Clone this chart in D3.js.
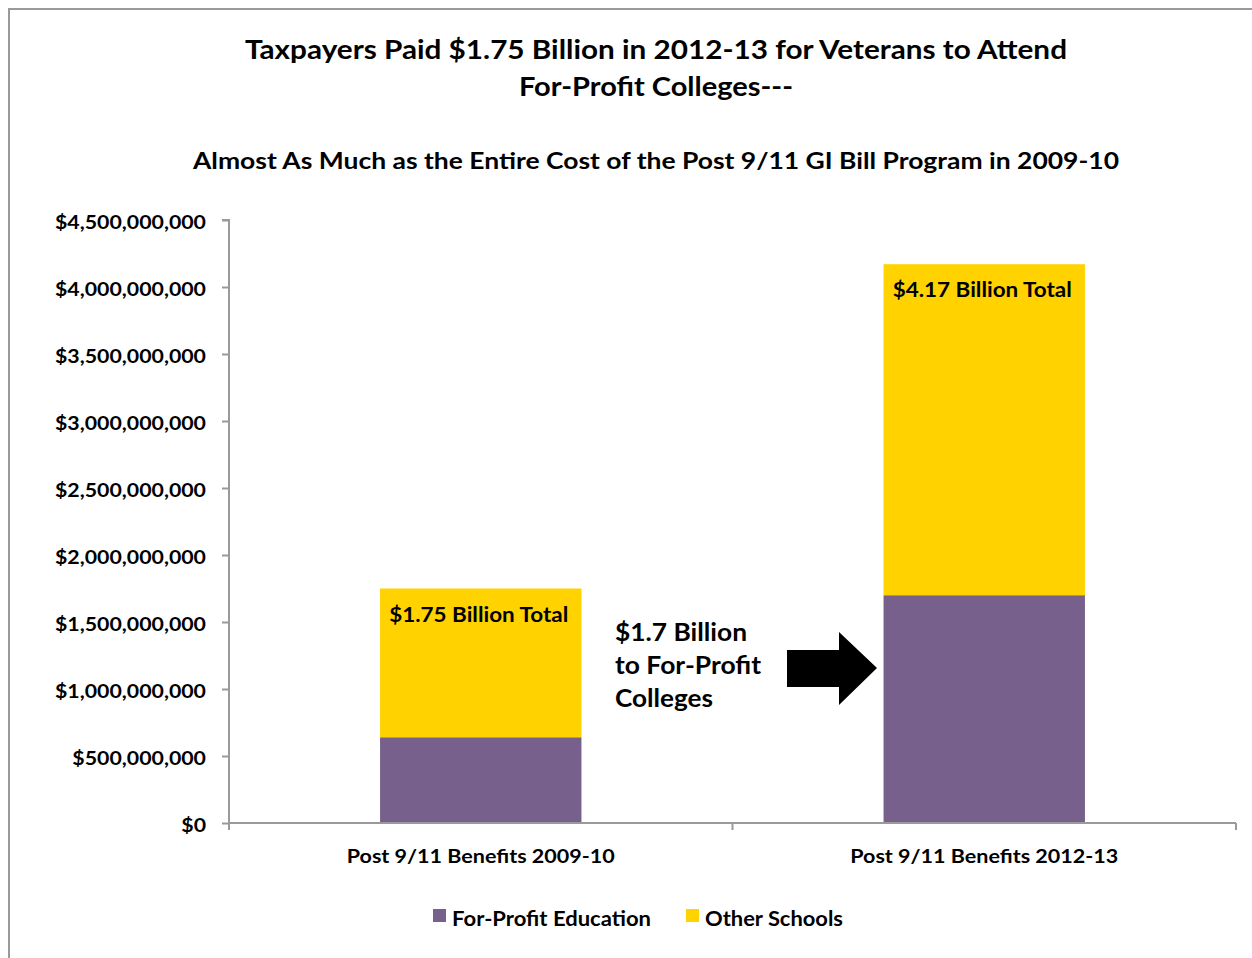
<!DOCTYPE html>
<html><head><meta charset="utf-8">
<script src="https://cdn.jsdelivr.net/npm/d3@7"></script>
<style>
html,body{margin:0;padding:0;background:#fff;}
svg{display:block;}
text{font-family:Lato,"Open Sans",sans-serif;font-weight:bold;fill:#000;}
</style></head>
<body>
<svg id="c" width="1252" height="958"></svg>
<script>
const categories = ["Post 9/11 Benefits 2009-10", "Post 9/11 Benefits 2012-13"];
const seriesNames = ["For-Profit Education", "Other Schools"];
const forProfit = [640000000, 1700000000];
const otherSchools = [1110000000, 2470000000];
const totalLabels = ["$1.75 Billion Total", "$4.17 Billion Total"];
const yTicks = [0, 500000000, 1000000000, 1500000000, 2000000000, 2500000000, 3000000000, 3500000000, 4000000000, 4500000000];
const colors = ["#77618C", "#FFD200"];
const annotationLines = ["$1.7 Billion", "to For-Profit", "Colleges"];

const svg = d3.select("#c");
// chart frame
svg.append("rect").attr("x", 9).attr("y", 9).attr("width", 1260).attr("height", 970)
  .attr("fill", "none").attr("stroke", "#9a9a9a").attr("stroke-width", 2);

function fit(sel, w) {
  const len = sel.node().getComputedTextLength();
  if (Math.abs(len - w) > 1) sel.attr("textLength", w).attr("lengthAdjust", "spacingAndGlyphs");
  return sel;
}
function scaleText(sel, k) {
  sel.each(function() {
    const len = this.getComputedTextLength();
    d3.select(this).attr("textLength", len * k).attr("lengthAdjust", "spacingAndGlyphs");
  });
}

// titles
fit(svg.append("text").attr("x", 656).attr("y", 59).attr("text-anchor", "middle").attr("font-size", 27.5)
  .text("Taxpayers Paid $1.75 Billion in 2012-13 for Veterans to Attend"), 822);
fit(svg.append("text").attr("x", 656).attr("y", 96).attr("text-anchor", "middle").attr("font-size", 27.5)
  .text("For-Profit Colleges---"), 274);
fit(svg.append("text").attr("x", 656).attr("y", 169).attr("text-anchor", "middle").attr("font-size", 23)
  .text("Almost As Much as the Entire Cost of the Post 9/11 GI Bill Program in 2009-10"), 926);

const x0 = 229, x1 = 1236, yTop = 220, yBot = 823;
const x = d3.scaleBand().domain(categories).range([x0, x1]).padding(0);
const y = d3.scaleLinear().domain([0, 4500000000]).range([yBot, yTop]);
const barW = x.bandwidth() * 0.4;

// bars
const stackData = categories.map((c, i) => ({cat: c, fp: forProfit[i], ot: otherSchools[i]}));
const stack = d3.stack().keys(["fp", "ot"])(stackData);
stack.forEach((layer, li) => {
  svg.append("g").selectAll("rect").data(layer).join("rect")
    .attr("x", d => x(d.data.cat) + (x.bandwidth() - barW) / 2)
    .attr("width", barW)
    .attr("y", d => y(d[1]))
    .attr("height", d => y(d[0]) - y(d[1]))
    .attr("fill", colors[li]);
});

// y axis
const yAxis = svg.append("g").attr("transform", `translate(${x0},0)`)
  .call(d3.axisLeft(y).tickValues(yTicks).tickSize(7).tickPadding(16)
    .tickFormat(d => "$" + d3.format(",")(d)));
yAxis.select(".domain").attr("stroke", "#9a9a9a").attr("stroke-width", 2).attr("d", `M-7,${yTop}H0V${yBot}`);
yAxis.selectAll(".tick line").attr("stroke", "#9a9a9a").attr("stroke-width", 2);
const yLabels = yAxis.selectAll(".tick text").attr("font-size", 18.5).attr("font-family", "Lato, sans-serif")
  .attr("font-weight", "bold").attr("fill", "#000").attr("dy", "0.48em");
let maxLen = 0;
yLabels.each(function() { maxLen = Math.max(maxLen, this.getComputedTextLength()); });
scaleText(yLabels, 151 / maxLen);

// x axis
const xAxis = svg.append("g").attr("transform", `translate(0,${yBot})`)
  .call(d3.axisBottom(x).tickSize(0).tickPadding(26));
xAxis.select(".domain").attr("stroke", "#9a9a9a").attr("stroke-width", 2).attr("d", `M${x0},0H${x1}`);
xAxis.selectAll(".tick text").attr("font-size", 19.5).attr("font-family", "Lato, sans-serif")
  .attr("font-weight", "bold").attr("fill", "#000")
  .each(function() { fit(d3.select(this), 268); });
// category boundary ticks
svg.append("g").selectAll("line").data([x0, x0 + x.step(), x1]).join("line")
  .attr("x1", d => d).attr("x2", d => d).attr("y1", yBot).attr("y2", yBot + 7)
  .attr("stroke", "#9a9a9a").attr("stroke-width", 2);

// total labels inside bars
categories.forEach((c, i) => {
  fit(svg.append("text").attr("x", x(c) + x.bandwidth() / 2 - 2).attr("y", y(forProfit[i] + otherSchools[i]) + 33)
    .attr("text-anchor", "middle").attr("font-size", 20.5).text(totalLabels[i]), 179);
});

// annotation
const annW = [132, 146, 98];
annotationLines.forEach((t, i) => {
  fit(svg.append("text").attr("x", 615).attr("y", 641 + i * 33).attr("font-size", 25).text(t), annW[i]);
});
// block arrow
const ax = 787, ay = 668;
svg.append("path").attr("fill", "#000")
  .attr("d", `M${ax},${ay - 18}H${ax + 52}V${ay - 36}L${ax + 90},${ay}L${ax + 52},${ay + 37}V${ay + 19}H${ax}Z`);

// legend
const lg = svg.append("g");
const legX = [433, 686];
const legW = [199, 138];
seriesNames.forEach((s, i) => {
  lg.append("rect").attr("x", legX[i]).attr("y", 909).attr("width", 13).attr("height", 13).attr("fill", colors[i]);
  fit(lg.append("text").attr("x", legX[i] + 19).attr("y", 926).attr("font-size", 21).text(s), legW[i]);
});
</script>
</body></html>
